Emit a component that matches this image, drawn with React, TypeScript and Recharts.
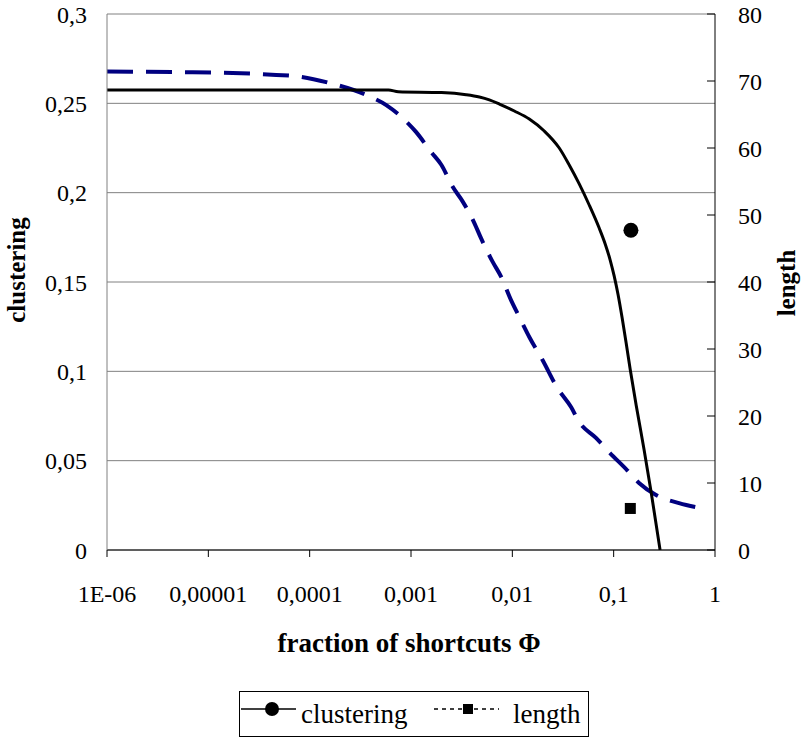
import { CartesianGrid, ComposedChart, Line, Scatter, XAxis, YAxis } from "recharts";

const FONT = "Liberation Serif, Tinos, Times New Roman, serif";

// x axis (log scale) and tick labels as printed
const X_TICKS = [1e-6, 1e-5, 1e-4, 1e-3, 1e-2, 1e-1, 1];
const X_TICK_LABELS = ["1E-06", "0,00001", "0,0001", "0,001", "0,01", "0,1", "1"];
const CLUSTERING_TICKS = [0, 0.05, 0.1, 0.15, 0.2, 0.25, 0.3];
const LENGTH_TICKS = [0, 10, 20, 30, 40, 50, 60, 70, 80];

// clustering curve (left axis)
const clusteringX = [
  1e-6, 1e-5, 1e-4, 6e-4, 7.5e-4, 2e-3, 3.5e-3, 4.73e-3, 5.93e-3, 7.45e-3, 0.01047,
  0.0147, 0.02065, 0.02904, 0.03643, 0.04571, 0.05736, 0.07196, 0.08247, 0.09237,
  0.1011, 0.1107, 0.1213, 0.1328, 0.1454, 0.1666, 0.1998, 0.2342, 0.2871,
];
const clusteringY = [
  0.2575, 0.2575, 0.2575, 0.2575, 0.2565, 0.256, 0.2548, 0.2535, 0.2519, 0.2496, 0.2457,
  0.2412, 0.2345, 0.225, 0.2155, 0.2049, 0.1931, 0.1802, 0.1713, 0.1623,
  0.1534, 0.1427, 0.1298, 0.1159, 0.1013, 0.0812, 0.056, 0.0325, 0,
];

// length curve (right axis)
const lengthX = [
  1e-6, 7e-6, 6.35e-5, 1.57e-4, 3.9e-4, 5.7e-4, 8.63e-4, 1.12e-3, 1.58e-3, 1.99e-3,
  2.58e-3, 3.24e-3, 4.22e-3, 4.92e-3, 6.4e-3, 7.74e-3, 9.71e-3, 0.0117, 0.0147,
  0.0198, 0.0278, 0.0381, 0.0457, 0.0673, 0.0903, 0.136, 0.178, 0.262, 0.442, 0.695,
];
const lengthY = [
  71.4, 71.3, 70.8, 69.7, 67.7, 66.4, 64.2, 62.4, 59.4, 57.5, 54.2, 52.0, 48.8, 46.5,
  43.0, 40.8, 37.3, 34.8, 31.8, 28.4, 24.2, 21.3, 19.1, 16.7, 14.6, 11.9, 10.0, 8.2,
  7.0, 6.3,
];

// single measured points
const clusteringPointX = [0.148];
const clusteringPointY = [0.179];
const lengthPointX = [0.146];
const lengthPointY = [6.2];

const zip = (xs: number[], ys: number[]) => xs.map((x, i) => ({ x, y: ys[i] }));

const clusteringData = zip(clusteringX, clusteringY);
const lengthData = zip(lengthX, lengthY);
const clusteringPoints = zip(clusteringPointX, clusteringPointY);
const lengthPoints = zip(lengthPointX, lengthPointY);

const NAVY = "#000080";

function formatX(v: number): string {
  const i = X_TICKS.indexOf(v);
  return i >= 0 ? X_TICK_LABELS[i] : String(v);
}

const tickStyle = { fontSize: 24, fill: "#000", fontFamily: FONT };
const titleStyle = { fontSize: 25, fontWeight: 700, fill: "#000", fontFamily: FONT };

function Legend() {
  return (
    <div
      style={{
        position: "absolute",
        left: 239,
        top: 691,
        width: 350,
        height: 46,
        border: "1px solid #000",
        boxSizing: "border-box",
        background: "#fff",
      }}
    >
      <svg width={348} height={44}>
        <line x1={1} y1={17} x2={56} y2={17} stroke="#000" strokeWidth={1.5} />
        <circle cx={32} cy={17} r={7} fill="#000" />
        <text x={61} y={31} fontSize={27} fontFamily={FONT}>
          clustering
        </text>
        <line x1={194} y1={17} x2={259} y2={17} stroke="#000" strokeWidth={1.5} strokeDasharray="4 4" />
        <rect x={223} y={12} width={10} height={10} fill="#000" />
        <text x={273} y={31} fontSize={27} fontFamily={FONT}>
          length
        </text>
      </svg>
    </div>
  );
}

export default function App() {
  return (
    <div style={{ position: "absolute", left: 0, top: 0, width: 802, height: 738, background: "#fff" }}>
      <ComposedChart
        width={802}
        height={738}
        margin={{ top: 14, right: 0, bottom: 128, left: 0 }}
      >
        <CartesianGrid yAxisId="left" vertical={false} stroke="#808080" strokeWidth={1} />
        <XAxis
          dataKey="x"
          type="number"
          scale="log"
          domain={[1e-6, 1]}
          allowDataOverflow
          ticks={X_TICKS}
          interval={0}
          tickFormatter={formatX}
          height={60}
          stroke="#000"
          tickSize={7}
          tickMargin={28}
          tick={tickStyle}
          label={() => (
            <text x={409} y={652} textAnchor="middle" style={{ ...titleStyle, fontSize: 27 }}>
              fraction of shortcuts Φ
            </text>
          )}
        />
        <YAxis
          yAxisId="left"
          type="number"
          domain={[0, 0.3]}
          allowDataOverflow
          ticks={CLUSTERING_TICKS}
          interval={0}
          tickFormatter={(v: number) => String(v).replace(".", ",")}
          width={107}
          stroke="#808080"
          tickLine={false}
          tickSize={0}
          tickMargin={20}
          tick={tickStyle}
          label={() => (
            <text
              x={0}
              y={0}
              textAnchor="middle"
              transform="translate(25 270) rotate(-90)"
              style={titleStyle}
            >
              clustering
            </text>
          )}
        />
        <YAxis
          yAxisId="right"
          orientation="right"
          type="number"
          domain={[0, 80]}
          allowDataOverflow
          ticks={LENGTH_TICKS}
          interval={0}
          width={87}
          stroke="#000"
          tickSize={-8}
          tickMargin={31}
          tick={tickStyle}
          label={() => (
            <text
              x={0}
              y={0}
              textAnchor="middle"
              transform="translate(795 283) rotate(-90)"
              style={titleStyle}
            >
              length
            </text>
          )}
        />
        <Line
          data={lengthData}
          dataKey="y"
          yAxisId="right"
          type="monotone"
          stroke={NAVY}
          strokeWidth={4}
          strokeDasharray="26 13"
          dot={false}
          activeDot={false}
          isAnimationActive={false}
        />
        <Line
          data={clusteringData}
          dataKey="y"
          yAxisId="left"
          type="monotone"
          stroke="#000"
          strokeWidth={3}
          dot={false}
          activeDot={false}
          isAnimationActive={false}
        />
        <Scatter
          data={clusteringPoints}
          dataKey="y"
          yAxisId="left"
          fill="#000"
          isAnimationActive={false}
          shape={(p: any) => <circle cx={p.cx} cy={p.cy} r={7.5} fill="#000" />}
        />
        <Scatter
          data={lengthPoints}
          dataKey="y"
          yAxisId="right"
          fill="#000"
          isAnimationActive={false}
          shape={(p: any) => <rect x={p.cx - 5.5} y={p.cy - 5.5} width={11} height={11} fill="#000" />}
        />
      </ComposedChart>
      <Legend />
    </div>
  );
}
